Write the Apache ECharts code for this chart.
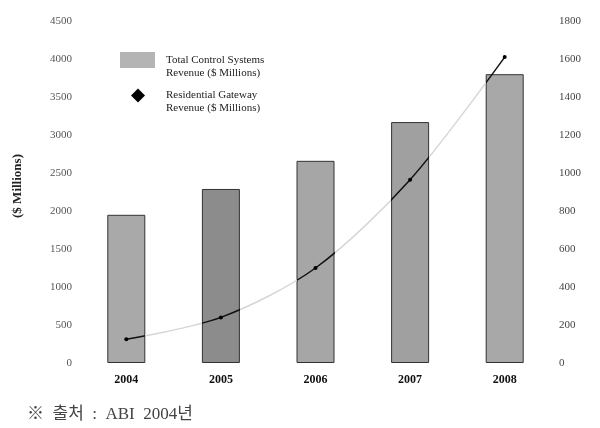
<!DOCTYPE html>
<html><head><meta charset="utf-8">
<script src="https://cdn.jsdelivr.net/npm/echarts@6/dist/echarts.min.js"></script>
<style>html,body{margin:0;padding:0;background:#fff}#c{width:600px;height:428px}</style>
</head><body><div id="c"></div>
<script>
var years = ['2004','2005','2006','2007','2008'];
var controlRevenue = [1950, 2290, 2660, 3170, 3800];
var gatewayRevenue = [125, 240, 500, 965, 1610];
var leftTicks = {min:0, max:4500, interval:500};
var rightTicks = {min:0, max:1800, interval:200};
var barName = 'Total Control Systems\nRevenue ($ Millions)';
var lineName = 'Residential Gateway\nRevenue ($ Millions)';
var footnote = '※  출처  :  ABI  2004년';

var serif = '"Liberation Serif","DejaVu Serif",serif';
var chart = echarts.init(document.getElementById('c'));
var barColors = ['#a9a9a9','#8c8c8c','#a6a6a6','#a0a0a0','#a8a8a8'];
var shiftDown = function(n){ return '\n' + n; };

var option = {
  backgroundColor:'#fff',
  animation:false,
  grid:{left:79, right:48, top:21, bottom:65},
  title:{text:footnote, left:27, top:406, padding:0, textStyle:{fontFamily:'"Liberation Serif","Noto Sans CJK KR",serif', fontSize:17, fontWeight:'normal', color:'#444'}},
  legend:[{
    orient:'vertical', left:120, top:40.5, padding:0, itemWidth:35, itemHeight:16, itemGap:5,
    data:[{name:barName, icon:'rect', itemStyle:{color:'#b4b4b4', borderWidth:0}}], formatter:shiftDown,
    textStyle:{fontFamily:serif, fontSize:11, color:'#222', lineHeight:13, padding:[0,0,0,6]}
  },{
    orient:'vertical', left:131, top:76, padding:0, itemWidth:14, itemHeight:14,
    data:[{name:lineName, icon:'diamond'}], formatter:shiftDown,
    textStyle:{fontFamily:serif, fontSize:11, color:'#222', lineHeight:13, padding:[0,0,0,16]}
  }],
  xAxis:{type:'category', data:years,
    axisLine:{show:false}, axisTick:{show:false},
    axisLabel:{fontFamily:serif, fontSize:12, fontWeight:'bold', color:'#111', margin:11}},
  yAxis:[{type:'value', min:leftTicks.min, max:leftTicks.max, interval:leftTicks.interval,
    name:'($ Millions)', nameLocation:'middle', nameGap:55, nameRotate:90,
    nameTextStyle:{fontFamily:serif, fontSize:13, fontWeight:'bold', color:'#222', padding:[0,0,0,12]},
    splitLine:{show:false}, axisLine:{show:false}, axisTick:{show:false},
    axisLabel:{fontFamily:serif, fontSize:11, color:'#555', margin:7, formatter:function(v){return String(v);}}},
   {type:'value', min:rightTicks.min, max:rightTicks.max, interval:rightTicks.interval,
    splitLine:{show:false}, axisLine:{show:false}, axisTick:{show:false},
    axisLabel:{fontFamily:serif, fontSize:11, color:'#444', margin:7, formatter:function(v){return String(v);}}}],
  series:[{
    name:barName, type:'bar', barWidth:38, yAxisIndex:0,
    data:controlRevenue.map(function(v,i){return {value:v, itemStyle:{color:barColors[i]}};}),
    itemStyle:{color:'#a6a6a6', borderColor:'#333', borderWidth:1}
  },{
    name:lineName, type:'line', yAxisIndex:1, smooth:0.3, z:5,
    data:gatewayRevenue, symbol:'circle', symbolSize:4,
    itemStyle:{color:'#000'},
    lineStyle:{color:'#111', width:1.5}
  }]
};
chart.setOption(option);

// line dark where it crosses bars, faint between bars (as in the scanned original)
var stops = [];
var x0 = chart.convertToPixel({xAxisIndex:0}, 0);
var x4 = chart.convertToPixel({xAxisIndex:0}, years.length-1);
var span = x4 - x0;
var half = 19 / span;
var light = '#d6d6d6', dark = '#111';
years.forEach(function(y,i){
  var c = i / (years.length-1);
  var a = Math.max(0, c-half), b = Math.min(1, c+half);
  stops.push({offset:a, color:light});
  stops.push({offset:a, color:dark});
  stops.push({offset:b, color:dark});
  stops.push({offset:b, color:light});
});
chart.setOption({series:[{},{lineStyle:{color:{type:'linear', x:x0, y:0, x2:x4, y2:0, global:true, colorStops:stops}}}]});
</script></body></html>
